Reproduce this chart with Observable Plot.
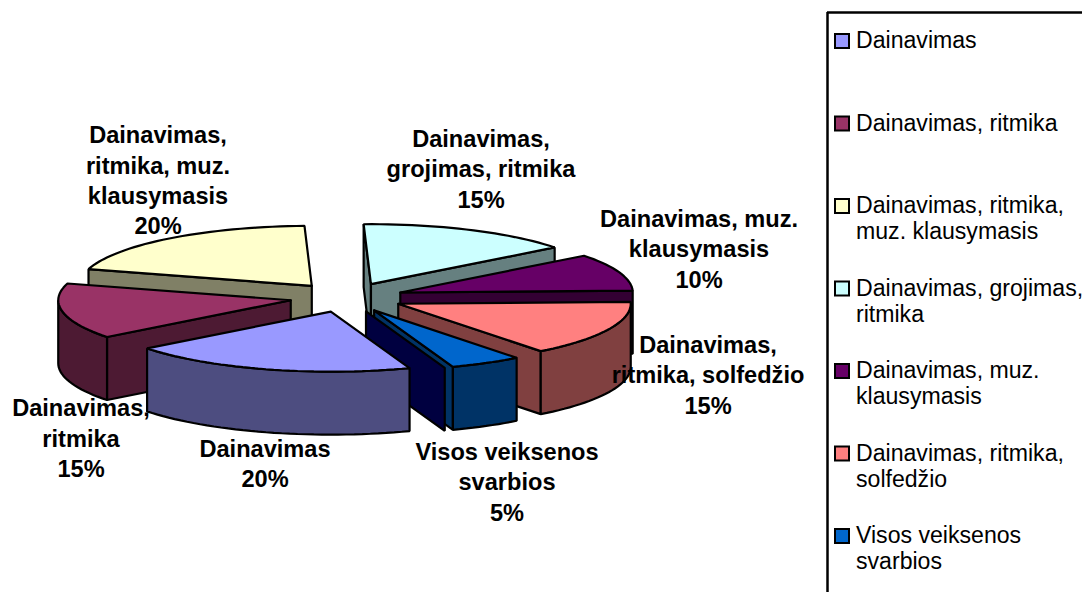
<!DOCTYPE html>
<html>
<head>
<meta charset="utf-8">
<script src="https://cdn.jsdelivr.net/npm/d3@7"></script>
<script src="https://cdn.jsdelivr.net/npm/@observablehq/plot@0.6"></script>
<style>
html,body{margin:0;padding:0;background:#fff;overflow:hidden}
svg{display:block}
</style>
</head>
<body>
<div id="chart"></div>
<script>
// Data (the trailing zero entry is the empty eighth point visible as the navy slab)
const values = [20, 15, 20, 15, 10, 15, 5, 0];
const topColors = ["#9999FF", "#993366", "#FFFFCC", "#CCFFFF", "#660066", "#FF8080", "#0066CC", "#000080"];
const legendLabels = [
  "Dainavimas",
  "Dainavimas, ritmika",
  "Dainavimas, ritmika,\nmuz. klausymasis",
  "Dainavimas, grojimas,\nritmika",
  "Dainavimas, muz.\nklausymasis",
  "Dainavimas, ritmika,\nsolfedžio",
  "Visos veiksenos\nsvarbios"
];
const sliceLabels = [
  "Dainavimas",
  "Dainavimas,\nritmika",
  "Dainavimas,\nritmika, muz.\nklausymasis",
  "Dainavimas,\ngrojimas, ritmika",
  "Dainavimas, muz.\nklausymasis",
  "Dainavimas,\nritmika, solfedžio",
  "Visos veiksenos\nsvarbios"
];

// Layout of the pie
const W = 1082, H = 592;
const cx = 346.2, cy = 297, rx = 232.5, ry = 60, depth = 63, explode = 0.245, startAngle = 160.2;
const labelCenters = [[264.5, 462], [80.5, 436.5], [157.5, 178.5], [480.5, 167], [698.5, 247], [707.5, 373], [506.5, 480]];
const legendX = 827, legendTop = 12, swatchX = 835, swatchSize = 14, legendTextX = 855.5, legendFirst = 41, legendStep = 82.5;

const rad = d => d * Math.PI / 180;
const total = d3.sum(values);
const px = (o, t, r = 1) => [o[0] + r * rx * Math.sin(rad(t)), o[1] - r * ry * Math.cos(rad(t))];

let acc = startAngle;
const slices = values.map((v, i) => {
  const a0 = acc, a1 = acc + v / total * 360;
  acc = a1;
  const mid = (a0 + a1) / 2;
  return {i, v, a0, a1, mid, apex: px([cx, cy], mid, explode), color: topColors[i]};
});

function arcPts(o, a, b) {
  const n = Math.max(1, Math.ceil(Math.abs(b - a) / 2)), pts = [];
  for (let k = 0; k <= n; k++) pts.push(px(o, a + (b - a) * k / n));
  return pts;
}
const drop = p => [p[0], p[1] + depth];
const darker = c => { const r = d3.rgb(c); return d3.rgb(r.r / 2, r.g / 2, r.b / 2).formatHex(); };

const faces = [];
let fid = 0;
function addFace(points, fill) {
  const id = fid++;
  [...points, points[0]].forEach(p => faces.push({id, x: p[0], y: p[1], fill}));
}
const sin = t => Math.sin(rad(t));
// painter's order: far slices first
[...slices].sort((a, b) => Math.cos(rad(b.mid)) - Math.cos(rad(a.mid))).forEach(s => {
  const side = darker(s.color);
  if (sin(s.a0) < 0) {
    const c = px(s.apex, s.a0);
    addFace([s.apex, c, drop(c), drop(s.apex)], side);
  }
  if (sin(s.a1) > 0) {
    const c = px(s.apex, s.a1);
    addFace([s.apex, c, drop(c), drop(s.apex)], side);
  }
  // outer wall: only the part of the rim that faces the viewer
  for (const k of [0, 1]) {
    const lo = Math.max(s.a0, 90 + 360 * k), hi = Math.min(s.a1, 270 + 360 * k);
    if (hi > lo) {
      const arc = arcPts(s.apex, lo, hi);
      addFace([...arc, ...arc.map(drop).reverse()], side);
    }
  }
  if (s.v > 0) addFace([s.apex, ...arcPts(s.apex, s.a0, s.a1)], s.color);
});

const labels = sliceLabels.map((t, i) => ({
  text: `${t}\n${values[i]}%`, x: labelCenters[i][0], y: labelCenters[i][1]
}));
const legend = legendLabels.map((text, i) => ({
  text, color: topColors[i], y: legendFirst + legendStep * i
}));

const plot = Plot.plot({
  width: W, height: H,
  margin: 0,
  x: {domain: [0, W], range: [0, W], axis: null},
  y: {domain: [0, H], range: [0, H], axis: null},
  color: {type: "identity"},
  style: {background: "#fff", fontFamily: "'Liberation Sans', Arial, sans-serif", overflow: "hidden"},
  marks: [
    Plot.line(faces, {x: "x", y: "y", z: "id", fill: "fill", stroke: "#000", strokeWidth: 2.2, strokeLinejoin: "miter", curve: "linear"}),
    Plot.text(labels, {x: "x", y: "y", text: "text", fontSize: 23.6, fontWeight: "bold", lineHeight: 1.29, fill: "#000", textAnchor: "middle"}),
    Plot.ruleY([legendTop], {x1: legendX, x2: W, stroke: "#000", strokeWidth: 2.5}),
    Plot.ruleX([legendX], {y1: legendTop, y2: H, stroke: "#000", strokeWidth: 2.5}),
    Plot.rect(legend, {
      x1: swatchX, x2: swatchX + swatchSize,
      y1: d => d.y - swatchSize / 2, y2: d => d.y + swatchSize / 2,
      fill: "color", stroke: "#000", strokeWidth: 2
    }),
    Plot.text(legend, {x: legendTextX, y: d => d.y - 12, text: "text", fontSize: 23.1, lineHeight: 1.13, lineAnchor: "top", textAnchor: "start", fill: "#000"})
  ]
});
document.getElementById("chart").appendChild(plot);
</script>
</body>
</html>
